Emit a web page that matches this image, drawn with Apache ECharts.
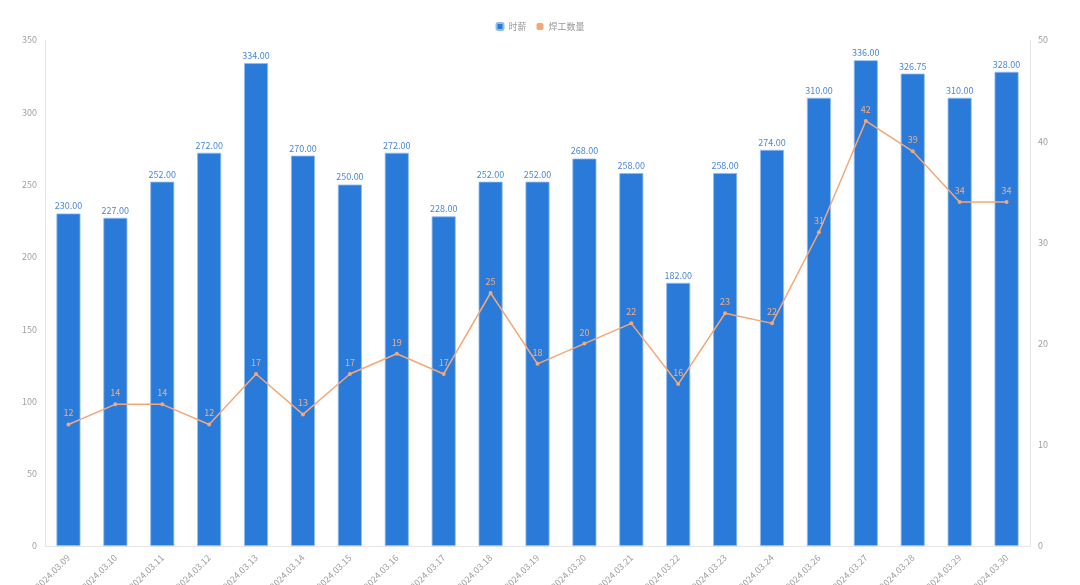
<!DOCTYPE html>
<html><head><meta charset="utf-8">
<script src="https://cdn.jsdelivr.net/npm/echarts@6/dist/echarts.min.js"></script>
<style>html,body{margin:0;padding:0;background:#fff}#c{width:1080px;height:585px}</style>
</head><body><div id="c"></div>
<script>
const categories = ['2024.03.09','2024.03.10','2024.03.11','2024.03.12','2024.03.13','2024.03.14','2024.03.15','2024.03.16','2024.03.17','2024.03.18','2024.03.19','2024.03.20','2024.03.21','2024.03.22','2024.03.23','2024.03.24','2024.03.26','2024.03.27','2024.03.28','2024.03.29','2024.03.30'];
const wageValues = [230,227,252,272,334,270,250,272,228,252,252,268,258,182,258,274,310,336,326.75,310,328];
const welderValues = [12,14,14,12,17,13,17,19,17,25,18,20,22,16,23,22,31,42,39,34,34];
const seriesNames = ['时薪','焊工数量'];

const chart = echarts.init(document.getElementById('c'));
const font = "'Noto Sans CJK SC','Noto Sans',sans-serif";
chart.setOption({
  backgroundColor:'#fff',
  textStyle:{fontFamily:font},
  legend:{top:17,left:'center',itemWidth:7,itemHeight:7,itemGap:10,icon:'roundRect',
    textStyle:{fontSize:9,color:'#999',fontFamily:font},data:seriesNames},
  grid:{left:45,right:50,top:40,bottom:39,containLabel:false,outerBoundsMode:'none'},
  xAxis:{type:'category',data:categories,
    axisLine:{lineStyle:{color:'#e6e6e6'}},axisTick:{show:false},
    axisLabel:{rotate:45,fontSize:9,color:'#a0a0a0',interval:0,margin:10}},
  yAxis:[
    {type:'value',min:0,max:350,interval:50,position:'left',
     axisLine:{show:true,lineStyle:{color:'#e6e6e6'}},splitLine:{show:false},
     axisLabel:{fontSize:9,color:'#a0a0a0',margin:8}},
    {type:'value',min:0,max:50,interval:10,position:'right',
     axisLine:{show:true,lineStyle:{color:'#e6e6e6'}},splitLine:{show:false},
     axisLabel:{fontSize:9,color:'#a0a0a0',margin:8}}
  ],
  series:[
    {name:seriesNames[0],type:'bar',data:wageValues,barWidth:24,
     itemStyle:{color:'#2a7bd9',borderColor:'#8fbcef',borderWidth:0.8},
     label:{show:true,position:'top',fontSize:9,color:'#4a88d6',
       formatter:p=>p.value.toFixed(2),distance:3}},
    {name:seriesNames[1],type:'line',yAxisIndex:1,data:welderValues,
     symbol:'circle',symbolSize:4,
     itemStyle:{color:'#f4a878'},lineStyle:{color:'#f4a878',width:1.5},
     label:{show:true,position:'top',fontSize:9,color:'#f1ae83',distance:5}}
  ]
});
</script></body></html>
